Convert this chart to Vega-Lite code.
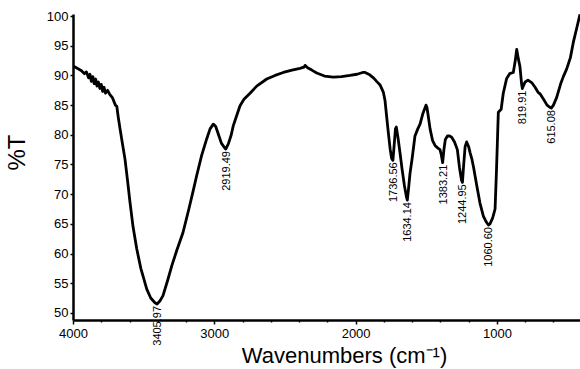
{
  "$schema": "https://vega.github.io/schema/vega-lite/v6.json",
  "autosize": {"type": "none"},
  "padding": {"left": 73, "top": 14, "right": 0, "bottom": 49},
  "width": 507,
  "height": 306,
  "background": "white",
  "config": {
    "view": {"stroke": null},
    "font": "Liberation Sans",
    "axis": {"grid": false, "domainColor": "black", "tickColor": "black", "labelColor": "black", "titleColor": "black", "domainWidth": 2.5, "tickWidth": 1.5}
  },
  "datasets": {
    "spectrum": [
      {"wn": 4000, "t": 91.6}, {"wn": 3970, "t": 91.2}, {"wn": 3940, "t": 90.8}, {"wn": 3920, "t": 90.3},
      {"wn": 3905, "t": 90.6}, {"wn": 3890, "t": 89.6}, {"wn": 3880, "t": 90.2}, {"wn": 3870, "t": 89.0},
      {"wn": 3860, "t": 89.8}, {"wn": 3850, "t": 88.6}, {"wn": 3840, "t": 89.4}, {"wn": 3830, "t": 88.2},
      {"wn": 3820, "t": 88.9}, {"wn": 3810, "t": 87.8}, {"wn": 3800, "t": 88.5}, {"wn": 3790, "t": 87.3},
      {"wn": 3780, "t": 88.0}, {"wn": 3770, "t": 87.0}, {"wn": 3755, "t": 87.5}, {"wn": 3740, "t": 86.8},
      {"wn": 3720, "t": 86.2}, {"wn": 3700, "t": 85.0}, {"wn": 3690, "t": 84.8}, {"wn": 3680, "t": 83.0},
      {"wn": 3667, "t": 81.0}, {"wn": 3650, "t": 78.5}, {"wn": 3632, "t": 75.9}, {"wn": 3615, "t": 72.5},
      {"wn": 3597, "t": 68.7}, {"wn": 3575, "t": 64.5}, {"wn": 3549, "t": 60.8}, {"wn": 3520, "t": 57.5},
      {"wn": 3478, "t": 54.0}, {"wn": 3450, "t": 52.5}, {"wn": 3420, "t": 51.7}, {"wn": 3405, "t": 51.5},
      {"wn": 3385, "t": 52.0}, {"wn": 3363, "t": 52.9}, {"wn": 3330, "t": 55.5}, {"wn": 3300, "t": 58.0},
      {"wn": 3266, "t": 60.5}, {"wn": 3222, "t": 63.5}, {"wn": 3180, "t": 67.5}, {"wn": 3150, "t": 70.5},
      {"wn": 3125, "t": 73.1}, {"wn": 3090, "t": 76.5}, {"wn": 3054, "t": 79.3}, {"wn": 3030, "t": 81.0},
      {"wn": 3007, "t": 81.8}, {"wn": 2990, "t": 81.4}, {"wn": 2970, "t": 80.0}, {"wn": 2950, "t": 78.6},
      {"wn": 2930, "t": 77.9}, {"wn": 2919, "t": 77.6}, {"wn": 2900, "t": 78.5}, {"wn": 2880, "t": 80.0},
      {"wn": 2866, "t": 81.5}, {"wn": 2845, "t": 83.0}, {"wn": 2818, "t": 84.9}, {"wn": 2790, "t": 86.0},
      {"wn": 2747, "t": 87.0}, {"wn": 2700, "t": 88.2}, {"wn": 2629, "t": 89.4}, {"wn": 2570, "t": 90.0},
      {"wn": 2512, "t": 90.5}, {"wn": 2450, "t": 90.9}, {"wn": 2394, "t": 91.2}, {"wn": 2365, "t": 91.4},
      {"wn": 2358, "t": 91.7}, {"wn": 2340, "t": 91.3}, {"wn": 2310, "t": 90.9}, {"wn": 2275, "t": 90.4},
      {"wn": 2220, "t": 89.9}, {"wn": 2158, "t": 89.7}, {"wn": 2100, "t": 89.8}, {"wn": 2040, "t": 90.0},
      {"wn": 1990, "t": 90.2}, {"wn": 1950, "t": 90.5}, {"wn": 1933, "t": 90.5}, {"wn": 1900, "t": 90.1},
      {"wn": 1870, "t": 89.5}, {"wn": 1851, "t": 89.0}, {"wn": 1827, "t": 88.4}, {"wn": 1804, "t": 87.2},
      {"wn": 1792, "t": 85.8}, {"wn": 1780, "t": 83.0}, {"wn": 1769, "t": 80.5}, {"wn": 1755, "t": 77.5},
      {"wn": 1745, "t": 76.0}, {"wn": 1736, "t": 75.7}, {"wn": 1728, "t": 78.0}, {"wn": 1718, "t": 81.0},
      {"wn": 1712, "t": 81.3}, {"wn": 1700, "t": 79.5}, {"wn": 1686, "t": 77.0}, {"wn": 1670, "t": 74.0},
      {"wn": 1655, "t": 71.5}, {"wn": 1640, "t": 69.5}, {"wn": 1634, "t": 69.0}, {"wn": 1625, "t": 71.0},
      {"wn": 1615, "t": 73.5}, {"wn": 1600, "t": 76.0}, {"wn": 1580, "t": 79.8}, {"wn": 1560, "t": 81.0},
      {"wn": 1544, "t": 81.8}, {"wn": 1525, "t": 83.5}, {"wn": 1502, "t": 85.0}, {"wn": 1495, "t": 84.6},
      {"wn": 1485, "t": 83.0}, {"wn": 1473, "t": 81.0}, {"wn": 1455, "t": 79.0}, {"wn": 1438, "t": 78.2},
      {"wn": 1420, "t": 77.8}, {"wn": 1403, "t": 77.5}, {"wn": 1395, "t": 76.8}, {"wn": 1384, "t": 75.3},
      {"wn": 1375, "t": 77.5}, {"wn": 1365, "t": 79.2}, {"wn": 1350, "t": 79.8}, {"wn": 1335, "t": 79.8},
      {"wn": 1320, "t": 79.6}, {"wn": 1300, "t": 78.8}, {"wn": 1280, "t": 77.5}, {"wn": 1265, "t": 74.5},
      {"wn": 1250, "t": 72.3}, {"wn": 1244, "t": 72.0}, {"wn": 1235, "t": 75.0}, {"wn": 1225, "t": 78.0},
      {"wn": 1214, "t": 78.8}, {"wn": 1200, "t": 78.0}, {"wn": 1190, "t": 77.0}, {"wn": 1178, "t": 76.0},
      {"wn": 1165, "t": 74.5}, {"wn": 1143, "t": 71.5}, {"wn": 1120, "t": 68.5}, {"wn": 1096, "t": 66.3},
      {"wn": 1075, "t": 65.3}, {"wn": 1060, "t": 64.8}, {"wn": 1049, "t": 65.0}, {"wn": 1030, "t": 66.0},
      {"wn": 1013, "t": 67.5}, {"wn": 1003, "t": 74.0}, {"wn": 995, "t": 80.0}, {"wn": 990, "t": 83.8},
      {"wn": 970, "t": 84.3}, {"wn": 955, "t": 87.0}, {"wn": 931, "t": 89.5}, {"wn": 910, "t": 90.3},
      {"wn": 884, "t": 90.5}, {"wn": 870, "t": 92.5}, {"wn": 860, "t": 94.4}, {"wn": 850, "t": 93.0},
      {"wn": 837, "t": 91.5}, {"wn": 825, "t": 88.5}, {"wn": 820, "t": 87.8}, {"wn": 812, "t": 88.3},
      {"wn": 800, "t": 88.9}, {"wn": 780, "t": 89.2}, {"wn": 754, "t": 88.8}, {"wn": 730, "t": 88.0},
      {"wn": 710, "t": 87.2}, {"wn": 695, "t": 86.9}, {"wn": 670, "t": 86.0}, {"wn": 645, "t": 85.0},
      {"wn": 624, "t": 84.6}, {"wn": 615, "t": 84.5}, {"wn": 600, "t": 85.0}, {"wn": 577, "t": 86.3},
      {"wn": 550, "t": 88.5}, {"wn": 530, "t": 89.8}, {"wn": 506, "t": 91.1}, {"wn": 480, "t": 93.0},
      {"wn": 459, "t": 95.6}, {"wn": 435, "t": 98.0}, {"wn": 412, "t": 100.3}
    ],
    "peaks": [
      {"wn": 3405.97, "t": 51.5, "label": "3405.97"},
      {"wn": 2919.49, "t": 77.6, "label": "2919.49"},
      {"wn": 1736.56, "t": 75.7, "label": "1736.56"},
      {"wn": 1634.14, "t": 69.0, "label": "1634.14"},
      {"wn": 1383.21, "t": 75.3, "label": "1383.21"},
      {"wn": 1244.95, "t": 72.0, "label": "1244.95"},
      {"wn": 1060.60, "t": 64.8, "label": "1060.60"},
      {"wn": 819.91, "t": 87.8, "label": "819.91"},
      {"wn": 615.08, "t": 84.5, "label": "615.08"}
    ]
  },
  "encoding": {
    "x": {
      "field": "wn", "type": "quantitative",
      "scale": {"domain": [412, 4000], "reverse": true, "nice": false, "zero": false},
      "axis": {
        "title": "Wavenumbers (cm⁻¹)",
        "values": [4000, 3800, 3600, 3400, 3200, 3000, 2800, 2600, 2400, 2200, 2000, 1800, 1600, 1400, 1200, 1000, 800, 600],
        "labelExpr": "datum.value % 1000 === 0 ? datum.value : ''",
        "tickSize": {"condition": {"test": "datum.value % 1000 === 0", "value": 4}, "value": 2},
        "labelFontSize": 13,
        "labelPadding": 3,
        "labelFlush": false,
        "titleFontSize": 22,
        "titleFontWeight": "normal",
        "titleX": 271,
        "titleY": 47,
        "titleBaseline": "bottom"
      }
    },
    "y": {
      "field": "t", "type": "quantitative",
      "scale": {"domain": [48.8, 100.35], "nice": false, "zero": false},
      "axis": {
        "title": "%T",
        "values": [50, 55, 60, 65, 70, 75, 80, 85, 90, 95, 100],
        "tickSize": 3,
        "labelFontSize": 13,
        "labelPadding": 2,
        "titleFontSize": 24,
        "titleFontWeight": "normal",
        "titleX": -44,
        "titleY": 138,
        "titleAngle": 270,
        "titleAlign": "center",
        "titleBaseline": "bottom"
      }
    }
  },
  "layer": [
    {
      "data": {"name": "spectrum"},
      "mark": {"type": "line", "color": "black", "strokeWidth": 2.8, "strokeJoin": "round", "clip": true}
    },
    {
      "data": {"name": "peaks"},
      "mark": {"type": "text", "angle": 270, "align": "right", "baseline": "middle", "dx": -2, "dy": 1, "fontSize": 11, "color": "black"},
      "encoding": {"text": {"field": "label"}}
    }
  ]
}
